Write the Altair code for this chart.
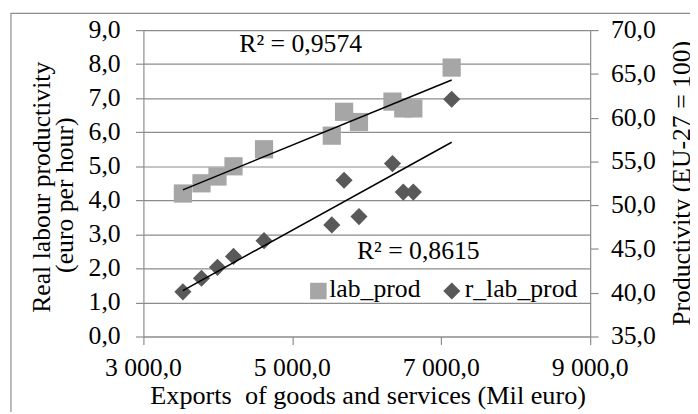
import altair as alt
import pandas as pd

# ---- data ----
exports = [3530, 3780, 3995, 4210, 4620, 5530, 5695, 5895, 6345, 6490, 6625, 7140]
lab_prod = [4.2, 4.5, 4.7, 5.0, 5.5, 5.9, 6.6, 6.3, 6.9, 6.7, 6.7, 7.9]
r_lab_prod = [40.1, 41.65, 42.9, 44.15, 45.95, 47.75, 52.85, 48.7, 54.75, 51.5, 51.5, 62.1]
x_ticks = [3000, 5000, 7000, 9000]
left_ticks = [0, 1, 2, 3, 4, 5, 6, 7, 8, 9]
right_ticks = [35, 40, 45, 50, 55, 60, 65, 70]
r2_labels = ["R² = 0,9574", "R² = 0,8615"]
series_names = ["lab_prod", "r_lab_prod"]
x_title = "Exports \u00a0of goods and services (Mil euro)"
left_title = ["Real labour productivity", "(euro per hour)"]
right_title = "Productivity (EU-27 = 100)"

df = pd.DataFrame({"exports": exports, "lab_prod": lab_prod, "r_lab_prod": r_lab_prod})

FONT = "'Liberation Serif', 'Times New Roman', Times, 'DejaVu Serif', serif"
FS = 26
GRAY = "#8c8c8c"
SQ_COLOR = "#a6a6a6"
DI_COLOR = "#595959"

W, H = 452, 310

common_axis = dict(
    labels=False, title=None,
    domainColor=GRAY, tickColor=GRAY, gridColor=GRAY,
    domainWidth=1.2, tickWidth=1.2, gridWidth=1.2, tickSize=8,
)

x_axis = alt.Axis(values=x_ticks, grid=False, **common_axis)
x_scale = alt.Scale(domain=[3000, 9000], nice=False, zero=False)
left_axis = alt.Axis(values=left_ticks, grid=True, **common_axis)
left_scale = alt.Scale(domain=[0, 9], nice=False, zero=False)
right_axis = alt.Axis(orient="right", values=right_ticks, grid=False, **common_axis)
right_scale = alt.Scale(domain=[35, 70], nice=False, zero=False)

X = alt.X("exports:Q", scale=x_scale, axis=x_axis)
YL = alt.Y("lab_prod:Q", scale=left_scale, axis=left_axis)
YR = alt.Y("r_lab_prod:Q", scale=right_scale, axis=right_axis)

base = alt.Chart(df)

def txt(size=FS, **kw):
    return dict(font=FONT, fontSize=size, color="black", **kw)

frame = base.mark_rect(filled=False, stroke=GRAY, strokeWidth=1.2).encode(
    x=alt.value(-134), x2=alt.value(800), y=alt.value(-17), y2=alt.value(600)
).transform_filter("datum.exports == 3530")

squares = base.mark_point(shape="square", filled=True, size=340, color=SQ_COLOR, opacity=1).encode(x=X, y=YL)
sq_trend = base.transform_regression("exports", "lab_prod").mark_line(
    color="black", strokeWidth=1.5).encode(x=X, y=YL)

diamonds = base.mark_point(shape="diamond", filled=True, size=300, color=DI_COLOR, opacity=1).encode(x=X, y=YR)
di_trend = base.transform_regression("exports", "r_lab_prod").mark_line(
    color="black", strokeWidth=1.5).encode(x=X, y=YR)

# tick labels drawn through the scales
xlab = alt.Chart(pd.DataFrame({"exports": x_ticks})).transform_calculate(
    lbl="replace(replace(format(datum.exports, ',.1f'), ',', ' '), '.', ',')"
).mark_text(**txt(align="center", baseline="alphabetic")).encode(x=X, y=alt.value(350), text="lbl:N")

ylab = alt.Chart(pd.DataFrame({"lab_prod": left_ticks})).transform_calculate(
    lbl="replace(format(datum.lab_prod, '.1f'), '.', ',')"
).mark_text(**txt(align="right", baseline="middle")).encode(y=YL, x=alt.value(-23), text="lbl:N")

rlab = alt.Chart(pd.DataFrame({"r_lab_prod": right_ticks})).transform_calculate(
    lbl="replace(format(datum.r_lab_prod, '.1f'), '.', ',')"
).mark_text(**txt(align="left", baseline="middle")).encode(y=YR, x=alt.value(W + 21), text="lbl:N")

# axis titles
titles = pd.DataFrame({"t": [x_title, left_title[0], left_title[1], right_title]})
xt = alt.Chart(titles).transform_filter(alt.datum.t == x_title).mark_text(
    **txt(size=26.5, align="left", baseline="alphabetic")).encode(text="t:N", x=alt.value(7), y=alt.value(378))
lt1 = alt.Chart(titles).transform_filter(alt.datum.t == left_title[0]).mark_text(
    **txt(align="center", baseline="alphabetic", angle=270)).encode(text="t:N", x=alt.value(-95), y=alt.value(159))
lt2 = alt.Chart(titles).transform_filter(alt.datum.t == left_title[1]).mark_text(
    **txt(align="center", baseline="alphabetic", angle=270)).encode(text="t:N", x=alt.value(-71), y=alt.value(167))
rt = alt.Chart(titles).transform_filter(alt.datum.t == right_title).mark_text(
    **txt(align="center", baseline="alphabetic", angle=270)).encode(text="t:N", x=alt.value(553), y=alt.value(155))

ann = pd.DataFrame({"t": r2_labels})
r2a = alt.Chart(ann).transform_filter(alt.datum.t == r2_labels[0]).mark_text(
    **txt(align="left", baseline="alphabetic")).encode(text="t:N", x=alt.value(97), y=alt.value(22))
r2b = alt.Chart(ann).transform_filter(alt.datum.t == r2_labels[1]).mark_text(
    **txt(align="left", baseline="alphabetic")).encode(text="t:N", x=alt.value(216), y=alt.value(232))

leg = pd.DataFrame({"s": series_names})
leg_sq = alt.Chart(leg).transform_filter(alt.datum.s == "lab_prod").mark_point(
    shape="square", filled=True, size=280, color=SQ_COLOR, opacity=1
).encode(x=alt.value(177), y=alt.value(264))
leg_sq_t = alt.Chart(leg).transform_filter(alt.datum.s == "lab_prod").mark_text(
    **txt(align="left", baseline="alphabetic")).encode(text="s:N", x=alt.value(188), y=alt.value(270))
leg_di = alt.Chart(leg).transform_filter(alt.datum.s == "r_lab_prod").mark_point(
    shape="diamond", filled=True, size=300, color=DI_COLOR, opacity=1
).encode(x=alt.value(312), y=alt.value(264))
leg_di_t = alt.Chart(leg).transform_filter(alt.datum.s == "r_lab_prod").mark_text(
    **txt(align="left", baseline="alphabetic")).encode(text="s:N", x=alt.value(325), y=alt.value(270))

left = alt.layer(frame, squares, sq_trend, xlab, ylab, xt, lt1, lt2, rt,
                 r2a, r2b, leg_sq, leg_sq_t, leg_di, leg_di_t)
right = alt.layer(diamonds, di_trend, rlab)

chart = (
    alt.layer(left, right)
    .resolve_scale(y="independent")
    .properties(
        width=W,
        height=H,
        autosize=alt.AutoSizeParams(type="none"),
        padding={"left": 137, "top": 20, "right": 101, "bottom": 74},
        background="white",
    )
    .configure_view(strokeWidth=0)
)

chart.save("out.html", embed_options={"renderer": "svg", "actions": False})
